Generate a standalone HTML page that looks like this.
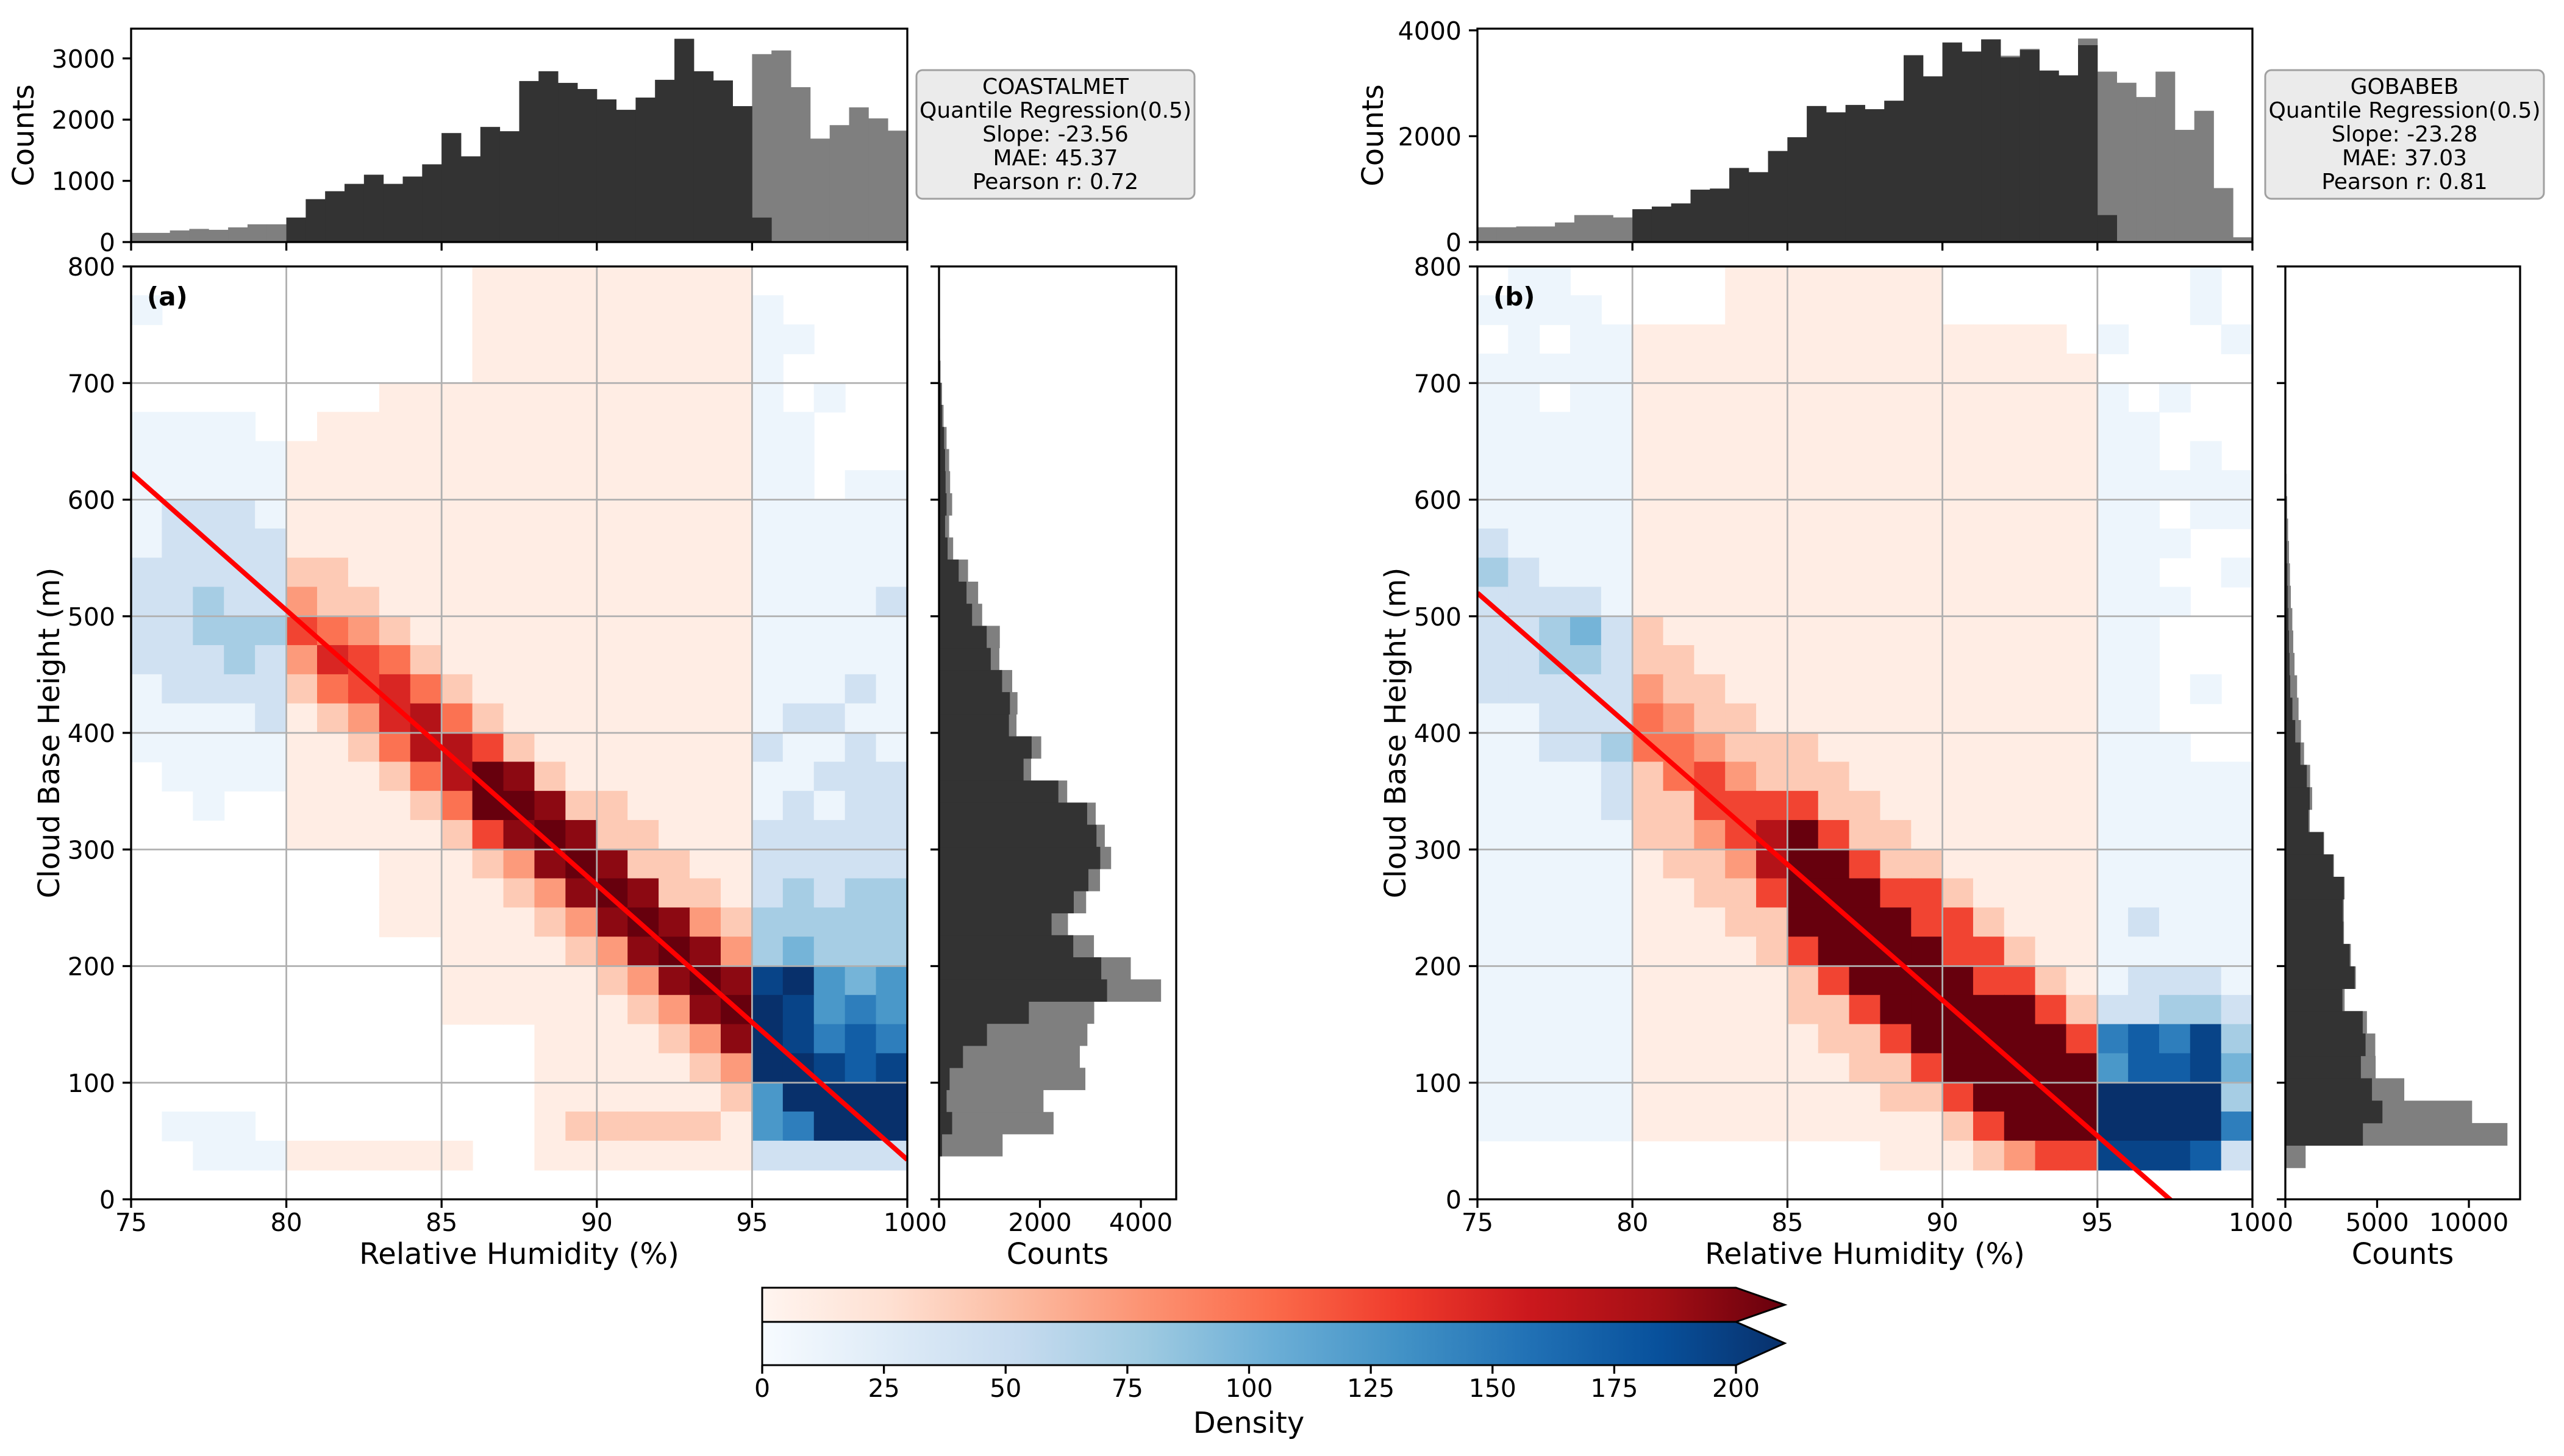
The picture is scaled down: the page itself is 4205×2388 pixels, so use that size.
<!DOCTYPE html>
<html><head><meta charset="utf-8"><style>
html,body{margin:0;padding:0;background:#fff;}
svg{display:block;font-family:"DejaVu Sans","Liberation Sans",sans-serif;}
</style></head><body>
<svg id="fig" width="4205" height="2388" viewBox="0 0 4205 2388" xmlns="http://www.w3.org/2000/svg">
<defs>
<linearGradient id="gReds" x1="0" x2="1" y1="0" y2="0">
<stop offset="0" stop-color="#fff5f0"/><stop offset="0.125" stop-color="#fee0d2"/><stop offset="0.25" stop-color="#fcbba1"/><stop offset="0.375" stop-color="#fc9272"/><stop offset="0.5" stop-color="#fb6a4a"/><stop offset="0.625" stop-color="#ef3b2c"/><stop offset="0.75" stop-color="#cb181d"/><stop offset="0.875" stop-color="#a50f15"/><stop offset="1" stop-color="#67000d"/>
</linearGradient>
<linearGradient id="gBlues" x1="0" x2="1" y1="0" y2="0">
<stop offset="0" stop-color="#f7fbff"/><stop offset="0.125" stop-color="#deebf7"/><stop offset="0.25" stop-color="#c6dbef"/><stop offset="0.375" stop-color="#9ecae1"/><stop offset="0.5" stop-color="#6baed6"/><stop offset="0.625" stop-color="#4292c6"/><stop offset="0.75" stop-color="#2171b5"/><stop offset="0.875" stop-color="#08519c"/><stop offset="1" stop-color="#08306b"/>
</linearGradient>
<clipPath id="clipA"><rect x="215" y="437" width="1273" height="1530"/></clipPath>
<clipPath id="clipB"><rect x="2423" y="437" width="1271" height="1530"/></clipPath>
</defs>
<g id="root"></g>
<g>
<polygon points="1250,2112 2847,2112 2927,2140 2847,2168 1250,2168" fill="url(#gReds)" stroke="#000" stroke-width="3"/>
<polygon points="1250,2168 2847,2168 2927,2203 2847,2239 1250,2239" fill="url(#gBlues)" stroke="#000" stroke-width="3"/>
<g id="cbticks"></g>
<text x="2048" y="2350" font-size="48" text-anchor="middle">Density</text>
</g>
</svg>
<script>
// ---- data ----
const topAllA=[150,150,190,215,200,240,290,290,400,700,830,950,1100,950,1070,1270,1780,1400,1880,1810,2630,2790,2600,2500,2330,2160,2360,2650,3320,2790,2640,2220,3070,3130,2530,1690,1910,2200,2020,1820];
const topSubA=[0,0,0,0,0,0,0,0,400,700,830,950,1100,950,1070,1270,1780,1400,1880,1810,2630,2790,2600,2500,2330,2160,2360,2650,3320,2790,2640,2220,400,0,0,0,0,0,0,0];
const topAllB=[280,280,295,295,370,510,510,465,620,670,730,990,1010,1400,1320,1720,1980,2570,2450,2590,2510,2670,3530,3130,3770,3600,3830,3520,3650,3240,3150,3845,3220,3010,2740,3220,2120,2480,1020,90];
const topSubB=[0,0,0,0,0,0,0,0,620,670,730,990,1010,1400,1320,1720,1980,2570,2450,2590,2510,2670,3530,3130,3770,3600,3830,3490,3630,3240,3150,3720,510,0,0,0,0,0,0,0];
const sideAllA=[1260,2270,2070,2900,2790,2940,3075,4400,3800,3070,2555,2915,3190,3410,3285,3105,2540,1825,2025,1535,1555,1450,1195,1205,855,775,575,280,200,260,220,200,150,90,60,30,20,15,8,5];
const sideSubA=[60,260,150,210,475,950,1780,3330,3215,2660,2230,2670,2960,3195,3120,2935,2365,1675,1835,1385,1405,1250,1025,945,655,545,390,170,120,150,130,120,100,60,40,20,15,10,5,3];
const sideAllB=[1105,12100,10175,6480,4920,4900,4445,3230,3840,3570,3195,3185,3230,2645,2110,1330,1460,1350,1020,850,720,640,500,430,380,300,250,200,150,100,60,30,0,0,0,0,0,0,0,0];
const sideSubB=[0,4225,5290,4720,4115,4370,4215,3110,3780,3505,3150,3130,3185,2610,2080,1260,1330,1170,820,540,385,265,230,200,170,140,110,80,60,40,25,10,0,0,0,0,0,0,0,0];
// hexbin density levels, rows top (800 m) to bottom; left = RH 75-79, mid = 80-94, right = 95-99
const levelDensity=[0,10,40,70,95,120,140,165,185,200];
const hexLeftA=["00000","10000","00000","00000","00000","11110","11111","11111","12221","12222","22222","22322","22333","22232","12222","11112","11111","01111","00100","00000","00000","00000","00000","00000","00000","00000","00000","00000","00000","01110","00111","00000"];
const hexMidA=["000000111111111","000000111111111","000000111111111","000000111111111","000111111111111","011111111111111","111111111111111","111111111111111","111111111111111","111111111111111","221111111111111","322111111111111","543211111111111","365421111111111","245642111111111","123674211111111","112477521111111","111247982111111","111124998221111","111112589822111","000111238982211","000111123898221","000111112389832","000001111238983","000001111123898","000001111112389","000000001111238","000000001111123","000000001111112","000000001222221","111111001111111","000000000000000"];
const hexRightA=["00000","10000","11000","10000","10100","11000","11000","11011","11111","11111","11111","11112","11111","11111","11121","12211","21121","11222","12122","22222","22222","23233","33333","34333","89545","98565","98676","99878","59999","56999","22222","00000"];
const hexLeftB=["01100","11110","01011","11111","11011","11111","11111","11111","11111","21111","32111","22221","22342","22332","22222","11222","11223","11112","11112","11111","11111","11111","11111","11111","11111","11111","11111","11111","11111","11111","00000","00000"];
const hexMidB=["000111111100000","000111111100000","111111111111110","111111111111111","111111111111111","111111111111111","111111111111111","111111111111111","111111111111111","111111111111111","111111111111111","111111111111111","211111111111111","221111111111111","322111111111111","432211111111111","443222111111111","245322211111111","225555221111111","223579522111111","122379952211111","112259995521111","111229999552111","111125999955211","111112599995521","111112259999952","111111225999995","111111122599999","111111112259999","111111111125999","000000001112355","000000000000000"];
const hexRightB=["00010","00010","10001","00000","10100","11000","11010","11111","11011","11100","11001","11100","11000","11000","11010","11000","11100","11111","11111","11111","11111","11111","12111","11111","12221","22332","67683","57784","99993","99996","88872","00000"];
const xTicks=[75,80,85,90,95,100];
const yTicks=[0,100,200,300,400,500,600,700,800];
const cbTicks=[0,25,50,75,100,125,150,175,200];
const statsA=["COASTALMET","Quantile Regression(0.5)","Slope: -23.56","MAE: 45.37","Pearson r: 0.72"];
const statsB=["GOBABEB","Quantile Regression(0.5)","Slope: -23.28","MAE: 37.03","Pearson r: 0.81"];
const fitA=[623,-23.56];
const fitB=[520,-23.28];
</script>
<script>
const NS="http://www.w3.org/2000/svg";
const root=document.getElementById('root');
function el(tag,attrs,parent){const e=document.createElementNS(NS,tag);for(const k in attrs)e.setAttribute(k,attrs[k]);(parent||root).appendChild(e);return e;}
function txt(s,attrs,parent){const e=el('text',attrs,parent);e.textContent=s;return e;}
const R=["#fff5f0","#fee0d2","#fcbba1","#fc9272","#fb6a4a","#ef3b2c","#cb181d","#a50f15","#67000d"];
const B=["#f7fbff","#deebf7","#c6dbef","#9ecae1","#6baed6","#4292c6","#2171b5","#08519c","#08306b"];
function h2r(h){return [1,3,5].map(i=>parseInt(h.substr(i,2),16));}
function cmap(c,t){t=Math.max(0,Math.min(1,t));const p=t*(c.length-1);const i=Math.min(c.length-2,Math.floor(p));const f=p-i;const a=h2r(c[i]),b=h2r(c[i+1]);return 'rgb('+a.map((v,k)=>Math.round(v+(b[k]-v)*f)).join(',')+')';}
const FS=41;
function panel(P){
  const xs=v=>P.mx0+(v-75)/25*(P.mx1-P.mx0);
  const ys=v=>P.my1-(v/800)*(P.my1-P.my0);
  const g=el('g',{});
  
  
  const hg=el('g',{'clip-path':'url(#'+P.clip+')'},g);
  
  
  P.left.forEach((lrow,r)=>{
    const row=lrow+P.mid[r]+P.right[r];
    for(let c=0;c<row.length;c++){
      const lv=+row[c]; if(!lv) continue;
      const rh=75+c; const d=levelDensity[lv];
      const col=(rh>=80&&rh<95)?cmap(R,d/200):cmap(B,d/200);
      const top=800-25*r;
      const rc=el('rect',{x:xs(rh)-0.5,y:ys(top)-0.5,width:xs(rh+1)-xs(rh)+1,height:ys(top-25)-ys(top)+1,fill:col},hg);
      
      
    }
  });
  xTicks.forEach(v=>{const l=el('line',{x1:xs(v),x2:xs(v),y1:P.my0,y2:P.my1,stroke:'#b0b0b0','stroke-width':2.8},g);
    
    });
  yTicks.forEach(v=>{const l=el('line',{x1:P.mx0,x2:P.mx1,y1:ys(v),y2:ys(v),stroke:'#b0b0b0','stroke-width':2.8},g);
    
    });
  const fl=el('line',{x1:xs(75),y1:ys(P.fit[0]),x2:xs(100),y2:ys(P.fit[0]+25*P.fit[1]),stroke:'#ff0000','stroke-width':8,'clip-path':'url(#'+P.clip+')'},g);
  
  
  const fr=el('rect',{x:P.mx0,y:P.my0,width:P.mx1-P.mx0,height:P.my1-P.my0,fill:'none',stroke:'#000','stroke-width':3.3},g);
  
  
  xTicks.forEach(v=>{el('line',{x1:xs(v),x2:xs(v),y1:P.my1,y2:P.my1+14,stroke:'#000','stroke-width':3.3},g);
    const t=txt(String(v),{x:xs(v),y:P.my1+52,'font-size':FS,'text-anchor':'middle'},g);
    
    });
  yTicks.forEach(v=>{el('line',{x1:P.mx0-14,x2:P.mx0,y1:ys(v),y2:ys(v),stroke:'#000','stroke-width':3.3},g);
    const t=txt(String(v),{x:P.mx0-26,y:ys(v)+15,'font-size':FS,'text-anchor':'end'},g);
    
    });
  const xl=txt('Relative Humidity (%)',{x:(P.mx0+P.mx1)/2,y:2073,'font-size':48,'text-anchor':'middle'},g);
  
  
  const yl=txt('Cloud Base Height (m)',{x:0,y:0,'font-size':48,'text-anchor':'middle',transform:'translate('+(P.mx0-118)+',1202) rotate(-90)'},g);
  
  
  const pl=txt(P.label,{x:P.mx0+26,y:501,'font-size':42,'font-weight':'bold'},g);
  
  
  const tg=el('g',{});
  
  
  const ty=v=>P.ty1-v/P.tmax*(P.ty1-P.ty0);
  [[P.topAll,'#7f7f7f'],[P.topSub,'#333333']].forEach(([arr,col])=>{
    arr.forEach((v,i)=>{if(!v)return;const x0=xs(75+0.625*i),x1=xs(75+0.625*(i+1));
      const b=el('rect',{x:x0,y:ty(v),width:x1-x0+0.4,height:P.ty1-ty(v),fill:col},tg);
      
      });
  });
  el('rect',{x:P.mx0,y:P.ty0,width:P.mx1-P.mx0,height:P.ty1-P.ty0,fill:'none',stroke:'#000','stroke-width':3.3},tg);
  xTicks.forEach(v=>el('line',{x1:xs(v),x2:xs(v),y1:P.ty1,y2:P.ty1+14,stroke:'#000','stroke-width':3.3},tg));
  P.tticks.forEach(v=>{el('line',{x1:P.mx0-14,x2:P.mx0,y1:ty(v),y2:ty(v),stroke:'#000','stroke-width':3.3},tg);
    const t=txt(String(v),{x:P.mx0-26,y:ty(v)+15,'font-size':FS,'text-anchor':'end'},tg);
    
    });
  const tl=txt('Counts',{x:0,y:0,'font-size':48,'text-anchor':'middle',transform:'translate('+P.tlx+','+(P.ty0+P.ty1)/2+') rotate(-90)'},tg);
  
  
  const sg=el('g',{});
  
  
  const sx=v=>P.sx0+v/P.smax*(P.sx1-P.sx0);
  [[P.sideAll,'#7f7f7f'],[P.sideSub,'#333333']].forEach(([arr,col])=>{
    arr.forEach((v,i)=>{if(!v)return;const h0=P.s0+P.sw*i,h1=h0+P.sw;
      const b=el('rect',{x:P.sx0,y:ys(h1),width:sx(v)-P.sx0,height:ys(h0)-ys(h1)+0.4,fill:col},sg);
      
      });
  });
  el('rect',{x:P.sx0,y:P.my0,width:P.sx1-P.sx0,height:P.my1-P.my0,fill:'none',stroke:'#000','stroke-width':3.3},sg);
  yTicks.forEach(v=>el('line',{x1:P.sx0-14,x2:P.sx0,y1:ys(v),y2:ys(v),stroke:'#000','stroke-width':3.3},sg));
  P.sticks.forEach((v,i)=>{el('line',{x1:sx(v),x2:sx(v),y1:P.my1,y2:P.my1+14,stroke:'#000','stroke-width':3.3},sg);
    const t=txt(P.slabels[i],{x:sx(v),y:P.my1+52,'font-size':FS,'text-anchor':'middle'},sg);
    
    });
  const sl=txt('Counts',{x:(P.sx0+P.sx1)/2,y:2073,'font-size':48,'text-anchor':'middle'},sg);
  
  
  const bg=el('g',{});
  
  
  el('rect',{x:P.bx0,y:115,width:P.bx1-P.bx0,height:211,rx:10,fill:'#ebebeb',stroke:'#a0a0a0','stroke-width':3},bg);
  P.stats.forEach((s,i)=>{const t=txt(s,{x:(P.bx0+P.bx1)/2,y:154+39*i,'font-size':36,'text-anchor':'middle'},bg);
    
    });
}
panel({id:'coastalmet',label:'(a)',clip:'clipA',mx0:215,mx1:1488,my0:437,my1:1967,left:hexLeftA,mid:hexMidA,right:hexRightA,fit:fitA,
  ty0:47,ty1:397,tmax:3486,tticks:[0,1000,2000,3000],topAll:topAllA,topSub:topSubA,tlx:55,
  sx0:1540,sx1:1929,smax:4700,sticks:[0,2000,4000],slabels:['0','2000','4000'],s0:37,sw:18.95,sideAll:sideAllA,sideSub:sideSubA,
  bx0:1503,bx1:1959,stats:statsA});
panel({id:'gobabeb',label:'(b)',clip:'clipB',mx0:2423,mx1:3694,my0:437,my1:1967,left:hexLeftB,mid:hexMidB,right:hexRightB,fit:fitB,
  ty0:47,ty1:397,tmax:4032,tticks:[0,2000,4000],topAll:topAllB,topSub:topSubB,tlx:2268,
  sx0:3748,sx1:4133,smax:12790,sticks:[0,5000,10000],slabels:['0','5000','10000'],s0:27,sw:19.2,sideAll:sideAllB,sideSub:sideSubB,
  bx0:3715,bx1:4172,stats:statsB});
const cbg=document.getElementById('cbticks');
const cx=v=>1250+v/200*(2847-1250);
cbTicks.forEach(v=>{
  el('line',{x1:cx(v),x2:cx(v),y1:2239,y2:2253,stroke:'#000','stroke-width':3.3},cbg);
  const t=txt(String(v),{x:cx(v),y:2291,'font-size':FS,'text-anchor':'middle'},cbg);
  
  
});
</script>
</body></html>
